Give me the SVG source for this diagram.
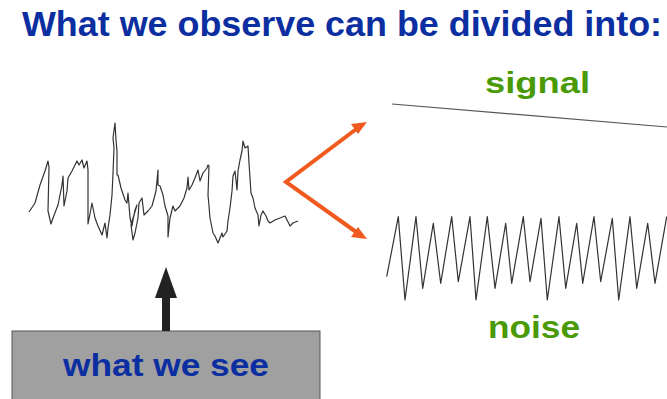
<svg xmlns="http://www.w3.org/2000/svg" width="667" height="399" viewBox="0 0 667 399">
<style>
.t{font-family:"Liberation Sans",Arial,sans-serif;font-weight:bold}
.blue{fill:#0b2ea0}
.green{fill:#4a9a06}
.wave{fill:none;stroke:#333;stroke-width:1.2;stroke-linejoin:round}
.orange{fill:none;stroke:#f05a1e;stroke-width:4;stroke-linecap:round;stroke-linejoin:miter}
.ohead{fill:#f05a1e}
.bk{fill:#222}
</style>
<rect width="667" height="399" fill="#fff"/>
<g id="title">
<text class="t blue" x="22" y="36" font-size="35" textLength="640" lengthAdjust="spacingAndGlyphs">What we observe can be divided into:</text>
</g>
<g id="observed">
<polyline class="wave" points="29,212 35,203 40,185 45,171 48,161 49,167 48,211 51,224 53,218 58,205 62,185 63,176 64,206 67,191 68,178 72,171 77,161 79,165 82,160 84,168 87,161 88,170 88,224 90,214 92,203 93,208 95,218 98,226 102,235 103,231 105,223 107,238 108,228 110,215 112,195 113,173 114,148 113,138 115,123 116,140 117,151 117,175 118,175 121,188 125,200 127,203 128,193 129,205 130,218 132,226 133,220 135,210 137,205 131,225 133,240 135,233 138,218 139,203 142,198 144,215 148,211 152,206 156,191 158,170 158,185 160,186 163,195 165,206 168,216 168,237 170,218 173,206 175,211 180,206 184,198 187,188 188,177 189,190 192,185 195,178 198,170 200,181 203,173 207,168 208,165 209,166 208,195 209,206 210,218 213,233 215,236 218,243 220,238 222,233 223,237 227,231 228,221 230,208 232,191 233,176 235,171 237,190 238,171 240,160 242,151 243,141 245,148 248,146 249,163 250,178 251,193 253,198 255,208 258,215 259,226 261,215 263,211 266,216 268,221 270,223 275,220 285,216 290,226 293,223 298,221"/>
</g>
<g id="signal">
<line x1="392" y1="104" x2="667" y2="127" stroke="#555" stroke-width="1.2"/>
<text class="t green" x="485" y="93" font-size="30" textLength="105" lengthAdjust="spacingAndGlyphs">signal</text>
</g>
<g id="noise">
<polyline class="wave" points="386.7,276.7 398.3,216.7 405,300 416,216.7 422.7,288.3 433.3,223.3 440.7,283.3 451.7,216.7 458.3,281.7 470,216.7 476,300 487.3,216.7 495,288.3 505.7,223.3 511.7,283.3 523.3,216.7 530,281.7 541,218.3 547.3,300 559,216.7 565.7,288.3 576.7,223.3 582.7,283.3 594,216.7 600.7,281.7 612.3,218.3 618.7,300 630,216.7 636.7,288.3 647.7,223.3 655,283.3 666.7,216.7"/>
<text class="t green" x="488" y="338" font-size="31" textLength="92" lengthAdjust="spacingAndGlyphs">noise</text>
</g>
<g id="what-we-see">
<rect x="12" y="331" width="308" height="80" fill="#a0a0a0" stroke="#555" stroke-width="1"/>
<text class="t blue" x="63" y="375.5" font-size="32" textLength="206" lengthAdjust="spacingAndGlyphs">what we see</text>
</g>
<g id="connectors">
<polyline class="orange" points="359,127 286,182 359,234"/>
<polygon class="ohead" points="367,122 351,124 358,134"/>
<polygon class="ohead" points="367,239 358,227 351,237"/>
<rect class="bk" x="162" y="296" width="8" height="35"/>
<polygon class="bk" points="155,298 177,298 166,267"/>
</g>
</svg>
